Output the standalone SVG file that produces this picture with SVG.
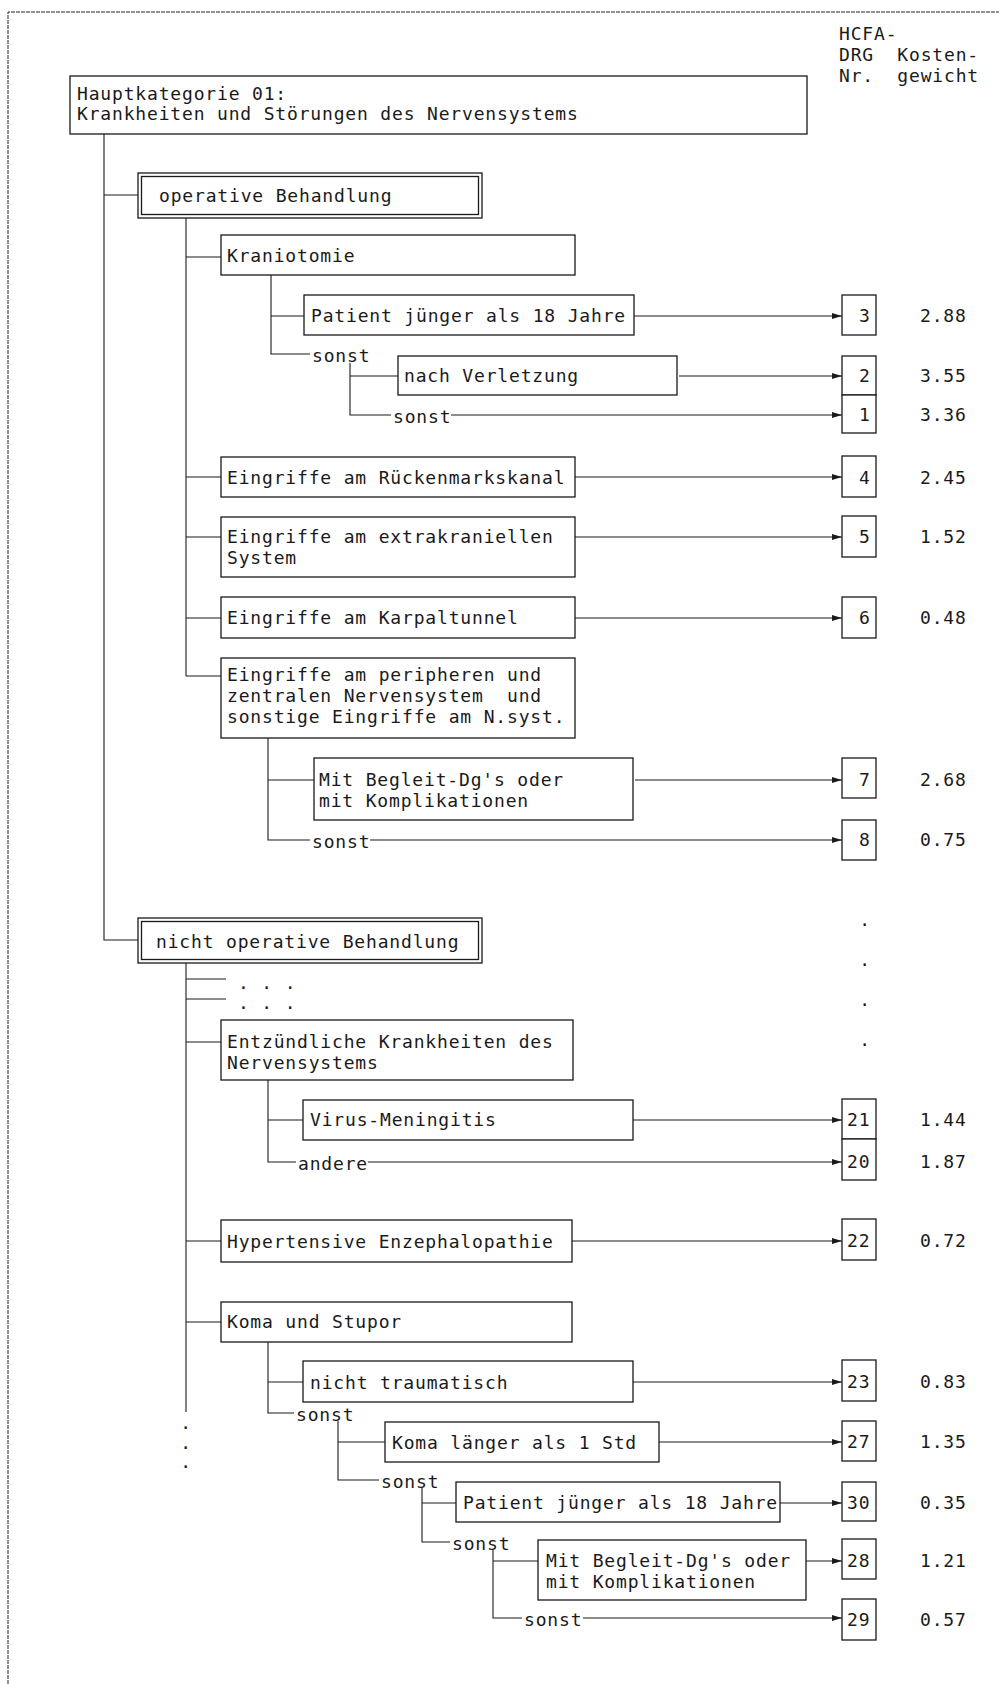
<svg xmlns="http://www.w3.org/2000/svg" width="999" height="1684" viewBox="0 0 999 1684" xml:space="preserve">
  <style>
    text { font-family: "DejaVu Sans Mono", "Liberation Mono", monospace; font-size: 18px; letter-spacing: 0.83px; fill: #1a1a1a; white-space: pre; }
    .box { fill: #fff; stroke: #1a1a1a; stroke-width: 1.3; }
    .nr { fill: #fff; stroke: #1a1a1a; stroke-width: 1.3; }
    .ln { fill: none; stroke: #1a1a1a; stroke-width: 1.1; }
    .arr { fill: none; stroke: #1a1a1a; stroke-width: 1.1; marker-end: url(#ah); }
    .frame { fill: none; stroke: #222; stroke-width: 1; stroke-dasharray: 4 1; }
  </style>
  <defs>
    <marker id="ah" viewBox="0 0 10 6" refX="10" refY="3" markerWidth="10" markerHeight="6" markerUnits="userSpaceOnUse" orient="auto">
      <path d="M0,0 L10,3 L0,6 Z" fill="#1a1a1a"/>
    </marker>
  </defs>

  <rect width="999" height="1684" fill="#fff"/>

  <!-- page frame (top and left edges) -->
  <path class="frame" d="M8,1684 V12 H999"/>

  <!-- column header -->
  <g id="header">
    <text x="839" y="40">HCFA-</text>
    <text x="839" y="61">DRG  Kosten-</text>
    <text x="839" y="82">Nr.  gewicht</text>
  </g>

  <!-- connectors -->
  <g id="connectors">
    <!-- trunk -->
    <path class="ln" d="M104,134 V940 H138"/>
    <path class="ln" d="M104,195 H138"/>
    <!-- operative Behandlung -->
    <path class="ln" d="M186,218 V676"/>
    <path class="ln" d="M186,257 H221 M186,477 H221 M186,537 H221 M186,618 H221 M186,676 H221"/>
    <!-- Kraniotomie -->
    <path class="ln" d="M271,275 V354 H310"/>
    <path class="ln" d="M271,316 H304"/>
    <path class="arr" d="M634,316 H842"/>
    <path class="ln" d="M350,363 V415 H391"/>
    <path class="ln" d="M350,376 H398"/>
    <path class="arr" d="M679,376 H842"/>
    <path class="arr" d="M451,415 H842"/>
    <!-- single-step groups -->
    <path class="arr" d="M575,477 H842"/>
    <path class="arr" d="M575,537 H842"/>
    <path class="arr" d="M575,618 H842"/>
    <!-- peripheres / zentrales Nervensystem -->
    <path class="ln" d="M268,738 V840 H310"/>
    <path class="ln" d="M268,780 H314"/>
    <path class="arr" d="M635,780 H842"/>
    <path class="arr" d="M370,840 H842"/>
    <!-- nicht operative Behandlung -->
    <path class="ln" d="M186,963 V1412"/>
    <path class="ln" d="M186,979 H226 M186,999 H226 M186,1042 H221 M186,1241 H221 M186,1322 H221"/>
    <!-- Entzuendliche Krankheiten -->
    <path class="ln" d="M268,1080 V1162 H296"/>
    <path class="ln" d="M268,1120 H303"/>
    <path class="arr" d="M633,1120 H842"/>
    <path class="arr" d="M368,1162 H842"/>
    <path class="arr" d="M572,1241 H842"/>
    <!-- Koma und Stupor -->
    <path class="ln" d="M268,1342 V1413 H294"/>
    <path class="ln" d="M268,1382 H303"/>
    <path class="arr" d="M633,1382 H842"/>
    <path class="ln" d="M338,1421 V1480 H379"/>
    <path class="ln" d="M338,1442 H385"/>
    <path class="arr" d="M659,1442 H842"/>
    <path class="ln" d="M422,1488 V1542 H450"/>
    <path class="ln" d="M422,1503 H456"/>
    <path class="arr" d="M780,1503 H842"/>
    <path class="ln" d="M493,1550 V1618 H522"/>
    <path class="ln" d="M493,1561 H538"/>
    <path class="arr" d="M806,1561 H842"/>
    <path class="arr" d="M583,1618 H842"/>
  </g>

  <!-- branch labels -->
  <g id="labels">
    <text x="312" y="362">sonst</text>
    <text x="393" y="423">sonst</text>
    <text x="312" y="848">sonst</text>
    <text x="298" y="1170">andere</text>
    <text x="296" y="1421">sonst</text>
    <text x="381" y="1488">sonst</text>
    <text x="452" y="1550">sonst</text>
    <text x="524" y="1626">sonst</text>
  </g>

  <!-- nodes -->
  <g id="mdc01">
    <rect class="box" x="70" y="76" width="737" height="58"/>
    <text x="77" y="100">Hauptkategorie 01:</text>
    <text x="77" y="120">Krankheiten und Störungen des Nervensystems</text>
  </g>

  <g id="operativ">
    <rect class="box" x="138" y="173" width="344" height="45"/>
    <rect class="box" x="141.5" y="176.5" width="337" height="38"/>
    <text x="159" y="202">operative Behandlung</text>
  </g>

  <g id="kraniotomie">
    <rect class="box" x="221" y="235" width="354" height="40"/>
    <text x="227" y="262">Kraniotomie</text>
  </g>
  <g id="krani-jung">
    <rect class="box" x="304" y="295" width="330" height="40"/>
    <text x="311" y="322">Patient jünger als 18 Jahre</text>
  </g>
  <g id="krani-verletzung">
    <rect class="box" x="398" y="356" width="279" height="39"/>
    <text x="404" y="382">nach Verletzung</text>
  </g>
  <g id="rueckenmark">
    <rect class="box" x="221" y="457" width="354" height="40"/>
    <text x="227" y="484">Eingriffe am Rückenmarkskanal</text>
  </g>
  <g id="extrakraniell">
    <rect class="box" x="221" y="517" width="354" height="60"/>
    <text x="227" y="543">Eingriffe am extrakraniellen</text>
    <text x="227" y="564">System</text>
  </g>
  <g id="karpaltunnel">
    <rect class="box" x="221" y="597" width="354" height="41"/>
    <text x="227" y="624">Eingriffe am Karpaltunnel</text>
  </g>
  <g id="peripher">
    <rect class="box" x="221" y="658" width="354" height="80"/>
    <text x="227" y="681">Eingriffe am peripheren und</text>
    <text x="227" y="702">zentralen Nervensystem  und</text>
    <text x="227" y="723">sonstige Eingriffe am N.syst.</text>
  </g>
  <g id="peripher-kompl">
    <rect class="box" x="314" y="758" width="319" height="62"/>
    <text x="319" y="786">Mit Begleit-Dg's oder</text>
    <text x="319" y="807">mit Komplikationen</text>
  </g>

  <g id="nicht-operativ">
    <rect class="box" x="138" y="918" width="344" height="45"/>
    <rect class="box" x="141.5" y="921.5" width="337" height="38"/>
    <text x="156" y="948">nicht operative Behandlung</text>
  </g>
  <g id="weitere">
    <text x="238" y="989">. . .</text>
    <text x="238" y="1009">. . .</text>
  </g>
  <g id="entzuendlich">
    <rect class="box" x="221" y="1020" width="352" height="60"/>
    <text x="227" y="1048">Entzündliche Krankheiten des</text>
    <text x="227" y="1069">Nervensystems</text>
  </g>
  <g id="virus">
    <rect class="box" x="303" y="1100" width="330" height="40"/>
    <text x="310" y="1126">Virus-Meningitis</text>
  </g>
  <g id="hypertensiv">
    <rect class="box" x="221" y="1220" width="351" height="42"/>
    <text x="227" y="1248">Hypertensive Enzephalopathie</text>
  </g>
  <g id="koma">
    <rect class="box" x="221" y="1302" width="351" height="40"/>
    <text x="227" y="1328">Koma und Stupor</text>
  </g>
  <g id="koma-nicht-trauma">
    <rect class="box" x="303" y="1361" width="330" height="41"/>
    <text x="310" y="1389">nicht traumatisch</text>
  </g>
  <g id="koma-lang">
    <rect class="box" x="385" y="1422" width="274" height="40"/>
    <text x="392" y="1449">Koma länger als 1 Std</text>
  </g>
  <g id="koma-jung">
    <rect class="box" x="456" y="1482" width="324" height="40"/>
    <text x="463" y="1509">Patient jünger als 18 Jahre</text>
  </g>
  <g id="koma-kompl">
    <rect class="box" x="538" y="1540" width="268" height="60"/>
    <text x="546" y="1567">Mit Begleit-Dg's oder</text>
    <text x="546" y="1588">mit Komplikationen</text>
  </g>
  <g id="auslassung">
    <text x="186" y="1429" text-anchor="middle">.</text>
    <text x="186" y="1449" text-anchor="middle">.</text>
    <text x="186" y="1468" text-anchor="middle">.</text>
  </g>

  <!-- DRG numbers with cost weights -->
  <g id="drg3"><rect class="nr" x="842" y="295" width="34" height="40"/><text x="859" y="322">3</text><text x="920" y="322">2.88</text></g>
  <g id="drg2"><rect class="nr" x="842" y="356" width="34" height="39"/><text x="859" y="382">2</text><text x="920" y="382">3.55</text></g>
  <g id="drg1"><rect class="nr" x="842" y="395" width="34" height="38"/><text x="859" y="421">1</text><text x="920" y="421">3.36</text></g>
  <g id="drg4"><rect class="nr" x="842" y="456" width="34" height="41"/><text x="859" y="484">4</text><text x="920" y="484">2.45</text></g>
  <g id="drg5"><rect class="nr" x="842" y="516" width="34" height="41"/><text x="859" y="543">5</text><text x="920" y="543">1.52</text></g>
  <g id="drg6"><rect class="nr" x="842" y="597" width="34" height="41"/><text x="859" y="624">6</text><text x="920" y="624">0.48</text></g>
  <g id="drg7"><rect class="nr" x="842" y="758" width="34" height="40"/><text x="859" y="786">7</text><text x="920" y="786">2.68</text></g>
  <g id="drg8"><rect class="nr" x="842" y="820" width="34" height="40"/><text x="859" y="846">8</text><text x="920" y="846">0.75</text></g>
  <g id="drg-weitere">
    <text x="865" y="926" text-anchor="middle">.</text>
    <text x="865" y="966" text-anchor="middle">.</text>
    <text x="865" y="1006" text-anchor="middle">.</text>
    <text x="865" y="1046" text-anchor="middle">.</text>
  </g>
  <g id="drg21"><rect class="nr" x="842" y="1099" width="34" height="40"/><text x="847" y="1126">21</text><text x="920" y="1126">1.44</text></g>
  <g id="drg20"><rect class="nr" x="842" y="1139" width="34" height="41"/><text x="847" y="1168">20</text><text x="920" y="1168">1.87</text></g>
  <g id="drg22"><rect class="nr" x="842" y="1219" width="34" height="41"/><text x="847" y="1247">22</text><text x="920" y="1247">0.72</text></g>
  <g id="drg23"><rect class="nr" x="842" y="1360" width="34" height="41"/><text x="847" y="1388">23</text><text x="920" y="1388">0.83</text></g>
  <g id="drg27"><rect class="nr" x="842" y="1421" width="34" height="40"/><text x="847" y="1448">27</text><text x="920" y="1448">1.35</text></g>
  <g id="drg30"><rect class="nr" x="842" y="1482" width="34" height="39"/><text x="847" y="1509">30</text><text x="920" y="1509">0.35</text></g>
  <g id="drg28"><rect class="nr" x="842" y="1539" width="34" height="40"/><text x="847" y="1567">28</text><text x="920" y="1567">1.21</text></g>
  <g id="drg29"><rect class="nr" x="842" y="1599" width="34" height="41"/><text x="847" y="1626">29</text><text x="920" y="1626">0.57</text></g>
</svg>
